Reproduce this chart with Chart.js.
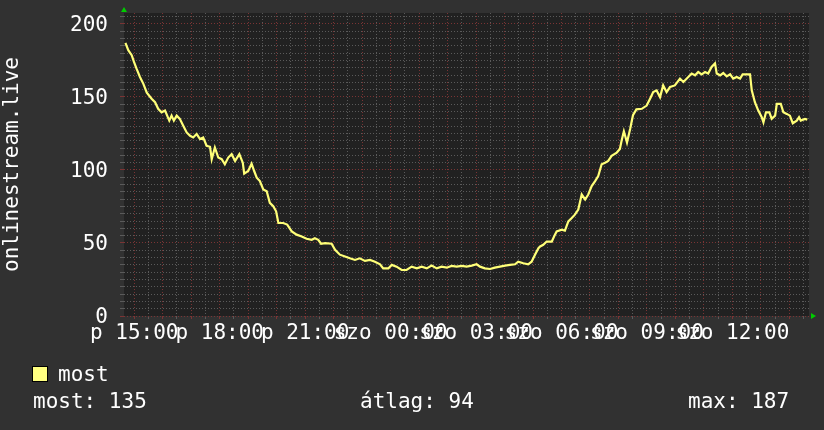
<!DOCTYPE html>
<html>
<head>
<meta charset="utf-8">
<script src="https://cdn.jsdelivr.net/npm/chart.js@4.4.1/dist/chart.umd.min.js"></script>
<style>
  html, body { margin: 0; padding: 0; background: #313131; }
  #wrap { position: relative; width: 824px; height: 430px; overflow: hidden; }
  canvas { position: absolute; left: 0; top: 0; }
  .txt {
    position: absolute; color: #fff; white-space: pre;
    font: 21px/21px "DejaVu Sans Mono", monospace;
  }
  .swatch {
    position: absolute; left: 32px; top: 366px; width: 14px; height: 14px;
    background: #ffff80; border: 1px solid #000;
  }
</style>
</head>
<body>
<div id="wrap">
  <canvas id="chart" width="824" height="430"></canvas>
  <div class="swatch"></div>
  <div class="txt" style="left:58px; top:364px;">most</div>
  <div class="txt" style="left:33px; top:391px;">most: 135</div>
  <div class="txt" style="left:360px; top:391px;">átlag: 94</div>
  <div class="txt" style="left:688px; top:391px;">max: 187</div>
</div>
<script>
// hours since Friday 00:00
const times = [
  14.69, 14.79, 14.91, 14.99, 15.08, 15.20, 15.32, 15.44, 15.61, 15.73,
  15.84, 15.96, 16.08, 16.23, 16.31, 16.39, 16.49, 16.60, 16.72, 16.84,
  16.96, 17.07, 17.19, 17.31, 17.42, 17.54, 17.66, 17.72, 17.83, 17.95,
  18.07, 18.18, 18.30, 18.42, 18.54, 18.69, 18.81, 18.86, 19.00, 19.12,
  19.21, 19.30, 19.41, 19.53, 19.65, 19.76, 19.88, 19.98, 20.06, 20.23,
  20.37, 20.53, 20.70, 20.88, 21.05, 21.23, 21.34, 21.46, 21.56, 21.70,
  21.93, 22.05, 22.22, 22.40, 22.57, 22.75, 22.92, 23.10, 23.28, 23.45,
  23.63, 23.74, 23.92, 24.04, 24.21, 24.39, 24.56, 24.74, 24.92, 25.09,
  25.27, 25.44, 25.62, 25.79, 25.97, 26.14, 26.32, 26.50, 26.67, 26.85,
  27.02, 27.14, 27.31, 27.49, 27.66, 27.84, 28.02, 28.19, 28.37, 28.48,
  28.66, 28.83, 28.95, 29.07, 29.19, 29.25, 29.36, 29.48, 29.66, 29.77,
  29.83, 30.01, 30.12, 30.24, 30.36, 30.47, 30.59, 30.71, 30.83, 30.94,
  31.06, 31.18, 31.29, 31.41, 31.53, 31.64, 31.76, 31.94, 32.05, 32.11,
  32.19, 32.30, 32.41, 32.51, 32.63, 32.82, 32.99, 33.11, 33.22, 33.34,
  33.46, 33.57, 33.69, 33.81, 33.98, 34.16, 34.28, 34.40, 34.57, 34.69,
  34.80, 34.92, 35.04, 35.15, 35.27, 35.39, 35.45, 35.57, 35.68, 35.80,
  35.92, 36.03, 36.15, 36.27, 36.36, 36.62, 36.68, 36.79, 36.91, 37.03,
  37.09, 37.18, 37.30, 37.38, 37.50, 37.56, 37.70, 37.79, 37.91, 38.02,
  38.12, 38.26, 38.34, 38.40, 38.55, 38.63
];
const most = [
  187, 182, 178.6, 174, 169.4, 163.7, 159, 153, 148.8, 146.4,
  141.9, 139.5, 140.7, 133.8, 137.2, 133.8, 137.2, 135, 130.3, 125.7,
  123.4, 122.3, 124.6, 121.2, 122.3, 116.6, 115.9, 107.4, 115.4, 108.5,
  107.4, 103.9, 108.5, 110.8, 106.2, 110.8, 105, 97.5, 99.3, 104.3,
  99.3, 94.7, 92.4, 86.7, 85.5, 77.5, 75.2, 71.7, 63.7, 63.7,
  62.6, 57.9, 55.7, 54.5, 52.9, 52.2, 53.3, 52.2, 49.5, 49.9,
  49.5, 45.3, 42, 40.7, 39.5, 38.4, 39.5, 37.7, 38.4, 37.2,
  35.4, 32.6, 32.6, 35, 33.8, 31.5, 31.5, 33.8, 32.6, 33.8,
  32.6, 34.5, 32.6, 33.8, 33.1, 34.3, 33.8, 34.3, 33.8, 34.5,
  35.4, 33.8, 32.6, 32.2, 33.1, 33.8, 34.5, 35, 35.4, 37.2,
  36.1, 35.4, 37.2, 41.9, 46.4, 47.6, 48.8, 51, 51, 55.7,
  57.9, 59.1, 58.4, 64.8, 67.1, 69.4, 72.9, 83.2, 79.8, 83.2,
  89, 92.4, 95.9, 103.9, 105, 106.2, 109.7, 111.9, 114.3, 120,
  126.5, 118.8, 128, 137.5, 141.5, 141.9, 144.1, 148.8, 153.3, 154.5,
  149.9, 157.9, 153.3, 156.8, 157.9, 162.6, 160.3, 162.6, 166, 164.8,
  167.1, 165.5, 167.1, 166, 170.6, 173, 166, 164.8, 166.4, 164.1,
  165.5, 162.6, 163.7, 162.6, 165.5, 165.5, 154.5, 146.4, 140.7, 136.1,
  132.6, 139.5, 139.5, 135, 137.2, 145.3, 145.3, 139.5, 138.4, 137.2,
  132, 133.8, 136.1, 133.8, 135, 134.5
];

const tickHours = [15, 18, 21, 24, 27, 30, 33, 36];
const tickLabels = ['p 15:00', 'p 18:00', 'p 21:00', 'szo 00:00', 'szo 03:00', 'szo 06:00', 'szo 09:00', 'szo 12:00'];
const yLabels = [0, 50, 100, 150, 200];

const monoFont = { family: 'DejaVu Sans Mono', size: 21 };
const minorGrid = '#5a5a5a';
const majorGrid = '#7a3434';

// plot background + rrd style arrows
const frame = {
  id: 'frame',
  beforeDraw(chart) {
    const { ctx, chartArea: a } = chart;
    ctx.save();
    ctx.fillStyle = '#313131';
    ctx.fillRect(0, 0, chart.width, chart.height);
    ctx.fillStyle = '#212121';
    ctx.fillRect(a.left, a.top, a.right - a.left, a.bottom - a.top);
    ctx.restore();
  },
  afterDraw(chart) {
    const { ctx, chartArea: a } = chart;
    ctx.save();
    ctx.fillStyle = '#00cc00';
    ctx.beginPath();
    ctx.moveTo(a.left - 3, a.top - 1);
    ctx.lineTo(a.left + 3, a.top - 1);
    ctx.lineTo(a.left, a.top - 6);
    ctx.fill();
    ctx.beginPath();
    ctx.moveTo(a.right + 2, a.bottom - 3);
    ctx.lineTo(a.right + 2, a.bottom + 3);
    ctx.lineTo(a.right + 7, a.bottom);
    ctx.fill();
    ctx.restore();
  }
};

new Chart(document.getElementById('chart'), {
  type: 'line',
  data: {
    datasets: [{
      label: 'most',
      data: times.map((t, i) => ({ x: t, y: most[i] })),
      borderColor: '#ffff78',
      borderWidth: 2.2,
      pointRadius: 0,
      tension: 0,
      fill: false,
    }],
  },
  options: {
    responsive: false,
    animation: false,
    layout: { padding: { left: 0, right: 15, top: 13, bottom: 84 } },
    plugins: { legend: { display: false }, tooltip: { enabled: false } },
    scales: {
      x: {
        type: 'linear',
        min: 14.64,
        max: 38.69,
        afterBuildTicks: (s) => {
          s.ticks = [];
          for (let h = 15; h <= 38.5; h += 0.5) s.ticks.push({ value: h });
        },
        afterFit: (s) => {
          s.height = 30;
          s.paddingLeft = 0;
          s.paddingRight = 0;
        },
        ticks: {
          autoSkip: false,
          maxRotation: 0,
          color: '#fff',
          font: monoFont,
          padding: 2,
          callback: (v) => {
            const i = tickHours.indexOf(v);
            return i >= 0 ? tickLabels[i] : '';
          },
        },
        grid: {
          color: (c) => (Number.isInteger(c.tick.value) ? majorGrid : minorGrid),
          tickLength: 3,
        },
        border: { display: false, dash: [1, 2] },
      },
      y: {
        type: 'linear',
        min: 0,
        max: 207.5,
        afterBuildTicks: (s) => {
          s.ticks = [];
          for (let v = 0; v <= 205; v += 5) s.ticks.push({ value: v });
        },
        afterFit: (s) => {
          s.width = 124;
          s.paddingTop = 0;
          s.paddingBottom = 0;
        },
        ticks: {
          autoSkip: false,
          color: '#fff',
          font: monoFont,
          padding: 12,
          labelOffset: 2,
          callback: (v) => (yLabels.includes(v) ? String(v) : ''),
        },
        grid: {
          color: (c) => (yLabels.includes(c.tick.value) ? majorGrid : minorGrid),
          tickLength: 4,
        },
        border: { display: false, dash: [1, 2] },
        title: {
          display: true,
          text: 'onlinestream.live',
          color: '#fff',
          font: monoFont,
          padding: 0,
        },
      },
    },
  },
  plugins: [frame],
});
</script>
</body>
</html>
